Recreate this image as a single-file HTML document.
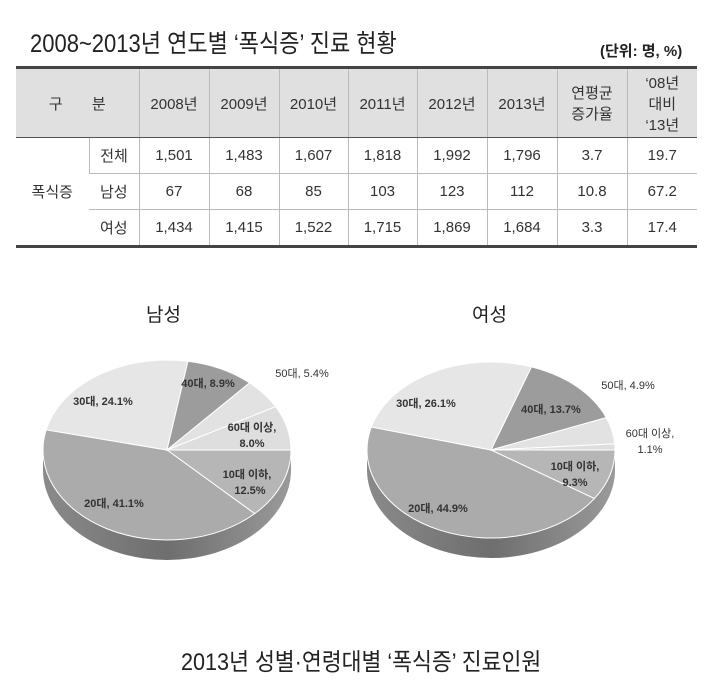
<!DOCTYPE html>
<html><head><meta charset="utf-8"><style>
body{margin:0;width:723px;height:696px;background:#fff;overflow:hidden;font-family:"Liberation Sans","Noto Sans CJK KR",sans-serif;color:#222;position:relative}
.t{position:absolute;white-space:nowrap}
table{position:absolute;left:16px;top:66px;width:681px;border-collapse:collapse;font-size:15px;color:#333}
td{text-align:center;border-left:1px solid #bbb;border-bottom:1px solid #bbb;padding:0}
tr.h td{background:#e0e0e0;height:68px;border-bottom:1px solid #555}
tr.r td{height:35px}
table{border-top:3px solid #444;border-bottom:3px solid #444}
td:first-child{border-left:none}
</style></head><body>
<div class="t" style="left:30px;top:24px;font-size:25px;transform:scaleX(0.88);transform-origin:left">2008~2013년 연도별 ‘폭식증’ 진료 현황</div>
<div class="t" style="left:600px;top:40px;font-size:15px;font-weight:bold">(단위: 명, %)</div>
<table>
<colgroup><col style="width:73px"><col style="width:50px"><col style="width:70px"><col style="width:70px"><col style="width:69px"><col style="width:69px"><col style="width:70px"><col style="width:70px"><col style="width:70px"><col style="width:70px"></colgroup>
<tr class="h"><td colspan="2">구&nbsp;&nbsp;&nbsp;&nbsp;&nbsp;&nbsp;&nbsp;분</td><td>2008년</td><td>2009년</td><td>2010년</td><td>2011년</td><td>2012년</td><td>2013년</td><td>연평균<br>증가율</td><td>‘08년<br>대비<br>‘13년</td></tr>
<tr class="r"><td rowspan="3" style="border-bottom:none">폭식증</td><td>전체</td><td>1,501</td><td>1,483</td><td>1,607</td><td>1,818</td><td>1,992</td><td>1,796</td><td>3.7</td><td>19.7</td></tr>
<tr class="r"><td>남성</td><td>67</td><td>68</td><td>85</td><td>103</td><td>123</td><td>112</td><td>10.8</td><td>67.2</td></tr>
<tr class="r"><td style="border-bottom:none">여성</td><td style="border-bottom:none">1,434</td><td style="border-bottom:none">1,415</td><td style="border-bottom:none">1,522</td><td style="border-bottom:none">1,715</td><td style="border-bottom:none">1,869</td><td style="border-bottom:none">1,684</td><td style="border-bottom:none">3.3</td><td style="border-bottom:none">17.4</td></tr>
</table>
<div class="t" style="left:146px;top:300px;font-size:19px">남성</div>
<div class="t" style="left:472px;top:300px;font-size:19px">여성</div>
<svg id="s" width="723" height="696" style="position:absolute;left:0;top:0" font-family="Liberation Sans, Noto Sans CJK KR, sans-serif"></svg>
<div class="t" style="left:0;width:723px;text-align:center;top:642px;font-size:24px;"><span style="display:inline-block;transform:scaleX(0.9)">2013년 성별·연령대별 ‘폭식증’ 진료인원</span></div>
<script>
var s=document.getElementById('s'),h='<defs><linearGradient id="g" x1="0" x2="1"><stop offset="0" stop-color="#8a8a8a"/><stop offset="0.5" stop-color="#6e6e6e"/><stop offset="1" stop-color="#9a9a9a"/></linearGradient></defs>';
function pie(cx,cy,rx,ry,d,sl){
 h+='<path d="M'+(cx-rx)+','+cy+' A'+rx+','+ry+' 0 0 0 '+(cx+rx)+','+cy+' L'+(cx+rx)+','+(cy+d)+' A'+rx+','+ry+' 0 0 1 '+(cx-rx)+','+(cy+d)+' Z" fill="url(#g)"/>';
 var a=0;sl.forEach(function(q){var b=a+q[0]*3.6,A=a*Math.PI/180,B=b*Math.PI/180;
 h+='<path d="M'+cx+','+cy+' L'+(cx+rx*Math.cos(A))+','+(cy+ry*Math.sin(A))+' A'+rx+','+ry+' 0 '+(b-a>180?1:0)+' 1 '+(cx+rx*Math.cos(B))+','+(cy+ry*Math.sin(B))+' Z" fill="'+q[1]+'" stroke="#fff" stroke-width="1"/>';a=b;});
}
pie(167,450,124,90,20,[[12.5,'#b6b6b6'],[41.1,'#ababab'],[24.1,'#e6e6e6'],[8.9,'#9c9c9c'],[5.4,'#e2e2e2'],[8.0,'#dedede']]);
pie(491,450,124,88,20,[[9.3,'#b6b6b6'],[44.9,'#ababab'],[26.1,'#e6e6e6'],[13.7,'#9c9c9c'],[4.9,'#e2e2e2'],[1.1,'#dedede']]);
function t(x,y,str,w){h+='<text x="'+x+'" y="'+y+'" font-size="11" font-weight="'+(w||'bold')+'" fill="#333" text-anchor="middle">'+str+'</text>';}
t(103,405,'30대, 24.1%');t(208,387,'40대, 8.9%');t(302,377,'50대, 5.4%','normal');t(252,431,'60대 이상,');t(252,447,'8.0%');t(247,478,'10대 이하,');t(250,494,'12.5%');t(114,507,'20대, 41.1%');
t(426,407,'30대, 26.1%');t(551,413,'40대, 13.7%');t(628,389,'50대, 4.9%','normal');t(650,437,'60대 이상,','normal');t(650,453,'1.1%','normal');t(575,470,'10대 이하,');t(575,486,'9.3%');t(438,512,'20대, 44.9%');
s.innerHTML=h;
</script>
</body></html>
